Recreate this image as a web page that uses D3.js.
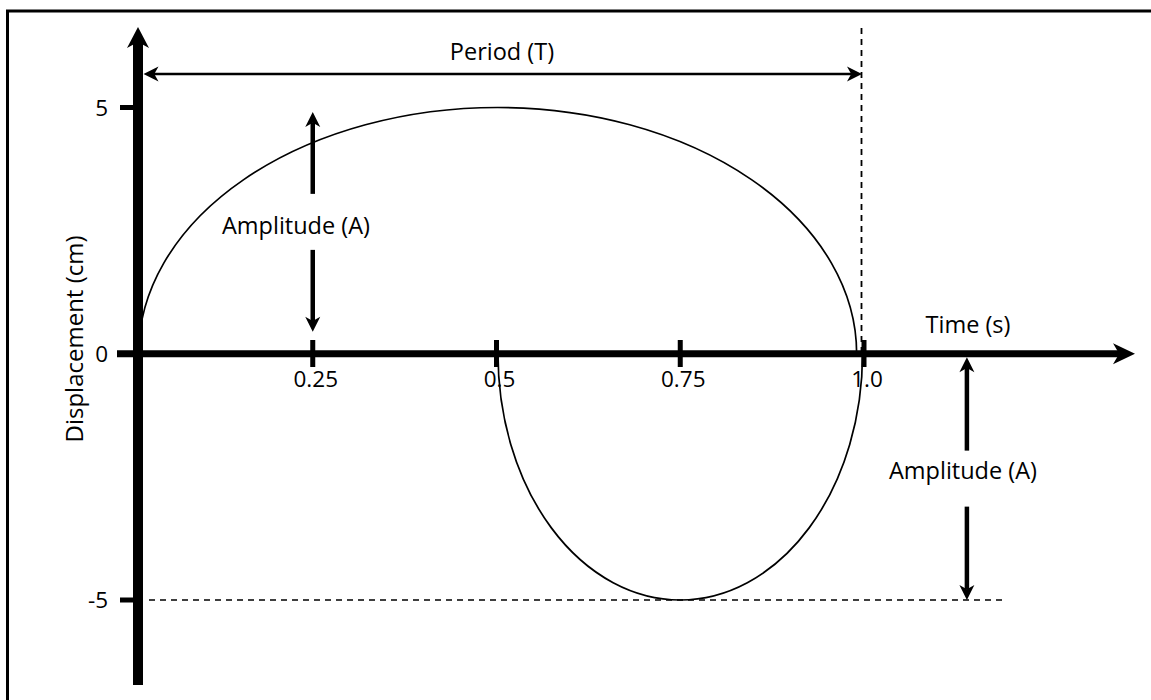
<!DOCTYPE html>
<html><head><meta charset="utf-8">
<script src="https://cdn.jsdelivr.net/npm/d3@7"></script>
<style>
html,body{margin:0;padding:0;background:#fff;}
svg{display:block;}
text{font-family:"Open Sans",sans-serif;fill:#000;}
</style>
</head><body>
<svg id="chart" width="1151" height="700"></svg>
<script>
// ---- data ----
const xTickValues = [0.25, 0.5, 0.75, 1.0];
const xTickLabels = ["0.25", "0.5", "0.75", "1.0"];
const yTickValues = [5, 0, -5];
const yTickLabels = ["5", "0", "-5"];
// the two half-oscillation lobes (time start, time end, peak displacement)
const lobeStart = [0.013, 0.502];
const lobeEnd   = [0.990, 0.998];
const lobePeak  = [5, -5];
// amplitude annotation arrows: time position, from displacement, to displacement
const amplitudeT    = [0.25, 1.14];
const amplitudeFrom = [5, 0];
const amplitudeTo   = [0, -5];
const periodStart = 0;
const periodEnd = 1.0;
const amplitudeLevel = -5;

// ---- layout ----
const W = 1151, H = 700;
const svg = d3.select("#chart");
const x = d3.scaleLinear().domain([0, 1]).range([129, 864]);
const y = d3.scaleLinear().domain([-5, 5]).range([600, 107.5]);
const yAxisX = 138;
const labelSize = 23.5, tickSize = 22.5;

function arrowHead(g, tx, ty, dx, dy, L, Wd) {
  const len = Math.hypot(dx, dy), ux = dx / len, uy = dy / len;
  const nx = -uy, ny = ux;
  const bx = tx - ux * L, by = ty - uy * L;
  const kx = tx - ux * L * 0.72, ky = ty - uy * L * 0.72;
  const p = d3.path();
  p.moveTo(tx, ty);
  p.lineTo(bx + nx * Wd / 2, by + ny * Wd / 2);
  p.lineTo(kx, ky);
  p.lineTo(bx - nx * Wd / 2, by - ny * Wd / 2);
  p.closePath();
  g.append("path").attr("d", p.toString()).attr("fill", "#000");
}
function arrow(x1, y1, x2, y2, sw, L, Wd, both) {
  const g = svg.append("g");
  const dx = x2 - x1, dy = y2 - y1, len = Math.hypot(dx, dy);
  const ux = dx / len, uy = dy / len;
  const s = both ? L * 0.7 : 0;
  g.append("line")
    .attr("x1", x1 + ux * s).attr("y1", y1 + uy * s)
    .attr("x2", x2 - ux * L * 0.7).attr("y2", y2 - uy * L * 0.7)
    .attr("stroke", "#000").attr("stroke-width", sw);
  arrowHead(g, x2, y2, dx, dy, L, Wd);
  if (both) arrowHead(g, x1, y1, -dx, -dy, L, Wd);
}

// frame (left and top edges visible)
svg.append("path").attr("d", `M7.5,${H + 2} L7.5,11 L${W + 2},11`)
  .attr("fill", "none").attr("stroke", "#000").attr("stroke-width", 3);

// lobes
lobeStart.forEach((t0, i) => {
  const x0 = x(t0), x1 = x(lobeEnd[i]);
  const rx = (x1 - x0) / 2, ry = Math.abs(y(lobePeak[i]) - y(0));
  const sweep = lobePeak[i] > 0 ? 1 : 0;
  svg.append("path")
    .attr("d", `M${x0},${y(0)} A${rx},${ry} 0 0 ${sweep} ${x1},${y(0)}`)
    .attr("fill", "none").attr("stroke", "#000").attr("stroke-width", 1.7);
});

// dashed guides
svg.append("line").attr("x1", x(periodEnd) - 2.5).attr("x2", x(periodEnd) - 2.5)
  .attr("y1", 28).attr("y2", y(0))
  .attr("stroke", "#000").attr("stroke-width", 1.8).attr("stroke-dasharray", "6,5");
svg.append("line").attr("x1", 149).attr("x2", 1007)
  .attr("y1", y(amplitudeLevel)).attr("y2", y(amplitudeLevel))
  .attr("stroke", "#000").attr("stroke-width", 1.6).attr("stroke-dasharray", "6,5");

// axes
arrow(yAxisX, 685, yAxisX, 27, 10, 21, 22, false);
arrow(117, y(0), 1135, y(0), 7, 22, 21, false);

// ticks
xTickValues.forEach((v, i) => {
  svg.append("rect").attr("x", x(v) - 2.5).attr("y", 340).attr("width", 5).attr("height", 27).attr("fill", "#000");
  svg.append("text").attr("x", x(v) + 3).attr("y", 387).attr("text-anchor", "middle")
    .attr("font-size", tickSize).text(xTickLabels[i]);
});
yTickValues.forEach((v, i) => {
  if (v !== 0) svg.append("rect").attr("x", 120).attr("y", y(v) - 2.5).attr("width", 14).attr("height", 5).attr("fill", "#000");
  svg.append("text").attr("x", 108).attr("y", y(v) + 8).attr("text-anchor", "end")
    .attr("font-size", tickSize).text(yTickLabels[i]);
});

// period arrow
arrow(yAxisX + 5.5, 74, x(periodEnd) - 2, 74, 2.5, 15, 15, true);

// amplitude arrows
const gapTop = [4.5, 3.5], gapBottom = [22, 0];
amplitudeT.forEach((t, i) => {
  const ax = x(t);
  const yTop = y(amplitudeFrom[i]) + gapTop[i];
  const yBot = y(amplitudeTo[i]) - gapBottom[i];
  const mid = (yTop + yBot) / 2;
  arrow(ax, mid - 28, ax, yTop, 4.5, 15, 15, false);
  arrow(ax, mid + 28, ax, yBot, 4.5, 15, 15, false);
});

// labels
svg.append("text").attr("x", 502).attr("y", 60).attr("text-anchor", "middle").attr("font-size", labelSize).text("Period (T)");
svg.append("text").attr("x", 296).attr("y", 234).attr("text-anchor", "middle").attr("font-size", labelSize).text("Amplitude (A)");
svg.append("text").attr("x", 963).attr("y", 479).attr("text-anchor", "middle").attr("font-size", labelSize).text("Amplitude (A)");
svg.append("text").attr("x", 968).attr("y", 333).attr("text-anchor", "middle").attr("font-size", labelSize).text("Time (s)");
svg.append("text").attr("transform", "translate(83,339) rotate(-90)").attr("text-anchor", "middle")
  .attr("font-size", 24).text("Displacement (cm)");
</script>
</body></html>
